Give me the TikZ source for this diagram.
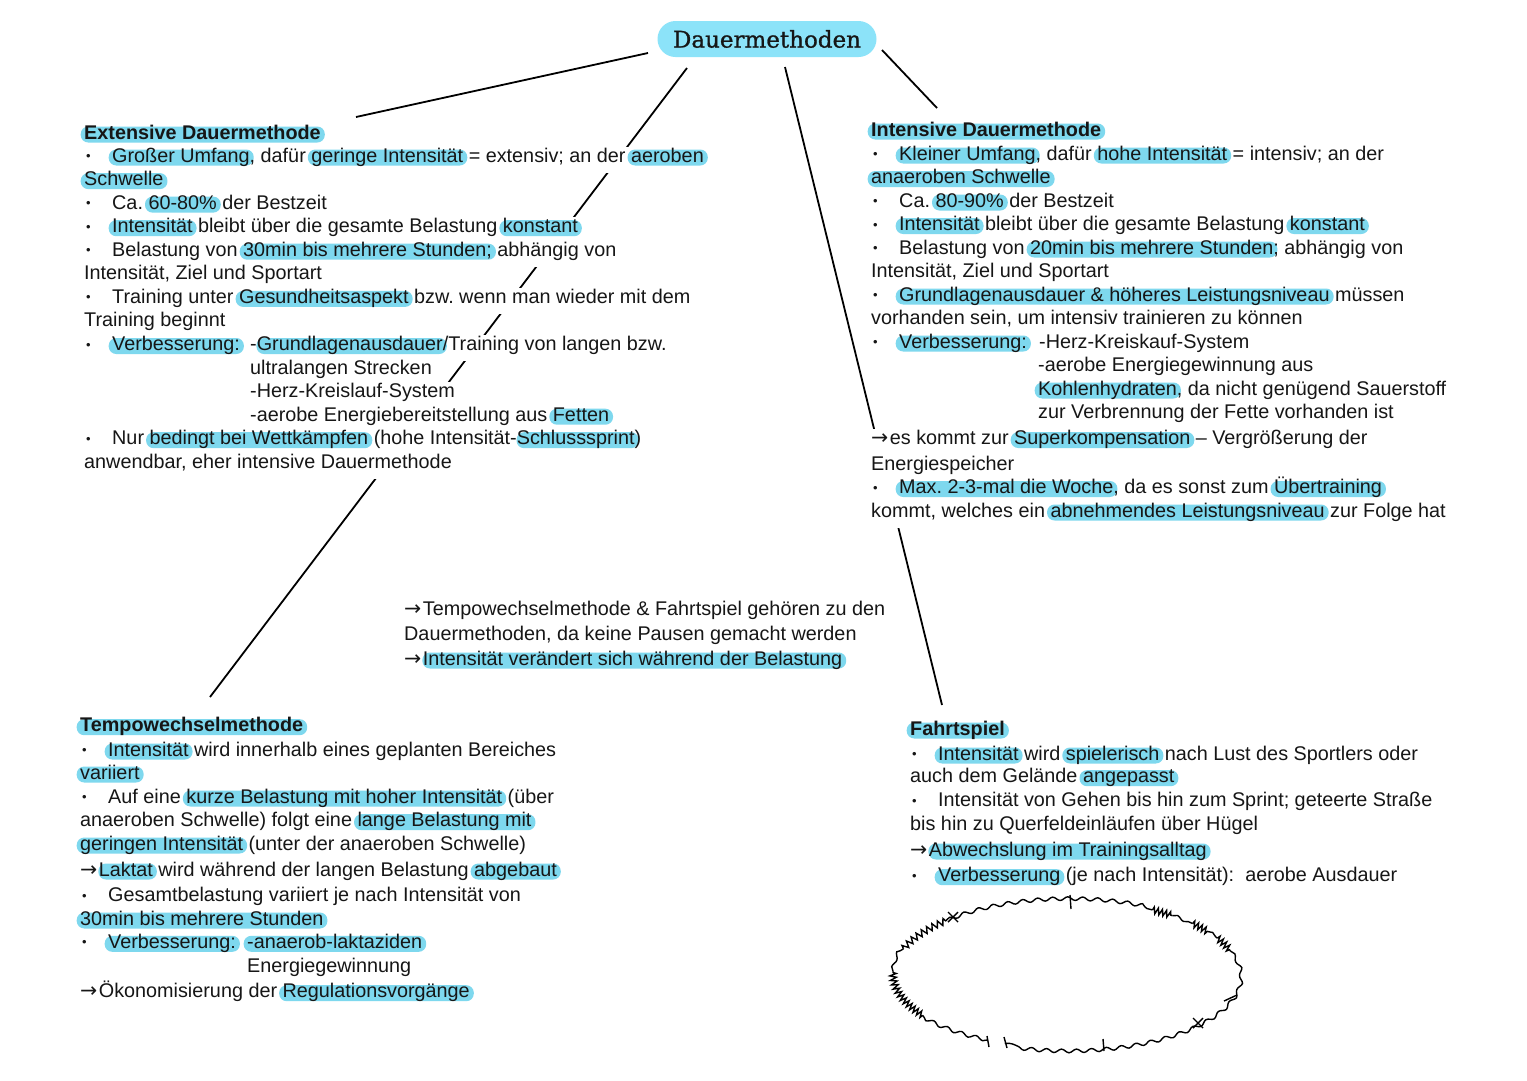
\documentclass[tikz,border=0pt]{standalone}
\usepackage{fontspec}
\setmainfont{Liberation Sans}
\newfontfamily\titlefont[FakeBold=1]{DejaVu Serif}
\newfontfamily\arrowfont{DejaVu Sans}
\usetikzlibrary{backgrounds,decorations.pathmorphing}
\definecolor{hlc}{RGB}{126,216,238}
\definecolor{titlec}{RGB}{140,227,249}
\definecolor{txtc}{RGB}{22,22,22}
\frenchspacing
\newsavebox\hlbox
\newlength\hlw
\newcommand\hl[2][3.5pt]{\sbox\hlbox{#2}\setlength\hlw{\wd\hlbox}\addtolength\hlw{4pt}\tikz[overlay,baseline=0pt]\fill[hlc,rounded corners=7.5pt](-#1,-3.5pt) rectangle (\hlw,12.5pt);\usebox\hlbox}
\newcommand\bul{\makebox[28pt][l]{\hspace{2pt}\raisebox{1.5pt}{\fontsize{13}{13}\selectfont •}}}
\newcommand\ar{{\arrowfont\fontsize{20.5}{20.5}\selectfont →}\kern1.5pt}
\newcounter{lnc}
\newcommand\Ln[3]{\stepcounter{lnc}\node[ln] (ln\arabic{lnc}) at (#1,#2) {#3};}
\newcommand\eseg[3]{\draw[elw,#3] ([shift={(1066,974)}]#1:173 and 74) arc[start angle=#1, end angle=#2, x radius=173, y radius=74];}
\begin{document}
\begin{tikzpicture}[x=1pt,y=-1pt,
  ln/.style={anchor=base west, inner sep=0pt, fill=white, text height=15.5pt, text depth=10.5pt, text=txtc, font=\fontsize{19.8}{23.5}\selectfont},
  head/.style={ln, font=\fontsize{19.8}{23.5}\selectfont\bfseries},
  titlebox/.style={fill=titlec, rounded corners=18pt, minimum width=219pt, minimum height=36pt, inner sep=0pt, text=txtc, font=\titlefont\fontsize{23}{23}\selectfont},
  conn/.style={line width=1.8pt, black},
  elw/.style={line width=1.4pt, black},
  wav/.style={decorate, decoration={snake, amplitude=1.8pt, segment length=15pt}},
  zz/.style={decorate, decoration={zigzag, amplitude=3.2pt, segment length=4.2pt}},
  zzs/.style={decorate, decoration={zigzag, amplitude=3.2pt, segment length=6pt}}]
\useasboundingbox (0,0) rectangle (1527,1080);

% title
\node[titlebox] (title) at (767,39) {Dauermethoden};

% connector end points
\coordinate (a1) at (648,53);  \coordinate (b1) at (356,117);
\coordinate (a2) at (687,68);  \coordinate (b2) at (210,697);
\coordinate (a3) at (785,67);  \coordinate (b3) at (942,705);
\coordinate (a4) at (882,50);  \coordinate (b4) at (937,108);

% Extensive Dauermethode
\node[head] (ext) at (84,139) {\hl{Extensive Dauermethode}};
\Ln{84}{162}{\bul\hl{Großer Umfang}, dafür \hl{geringe Intensität} = extensiv; an der \hl{aeroben}}
\Ln{84}{185.6}{\hl{Schwelle}}
\Ln{84}{209.1}{\bul Ca. \hl{60-80\%} der Bestzeit}
\Ln{84}{232.7}{\bul\hl{Intensität} bleibt über die gesamte Belastung \hl{konstant}}
\Ln{84}{256.2}{\bul Belastung von \hl{30min bis mehrere Stunden;} abhängig von}
\Ln{84}{279.8}{Intensität, Ziel und Sportart}
\Ln{84}{303.4}{\bul Training unter \hl{Gesundheitsaspekt} bzw. wenn man wieder mit dem}
\Ln{84}{326.9}{Training beginnt}
\Ln{84}{350.5}{\bul\makebox[138pt][l]{\hl{Verbesserung:}}-\hl[0.3pt]{Grundlagenausdauer}/Training von langen bzw.}
\Ln{250}{374.0}{ultralangen Strecken}
\Ln{250}{397.6}{-Herz-Kreislauf-System}
\Ln{250}{421.2}{-aerobe Energiebereitstellung aus \hl{Fetten}}
\Ln{84}{444.7}{\bul Nur \hl{bedingt bei Wettkämpfen} (hohe Intensität-\hl[0.3pt]{Schlusssprint})}
\Ln{84}{468.3}{anwendbar, eher intensive Dauermethode}

% Intensive Dauermethode
\node[head] (int) at (871,136) {\hl{Intensive Dauermethode}};
\Ln{871}{160}{\bul\hl{Kleiner Umfang}, dafür \hl{hohe Intensität} = intensiv; an der}
\Ln{871}{183.5}{\hl{anaeroben Schwelle}}
\Ln{871}{207}{\bul Ca. \hl{80-90\%} der Bestzeit}
\Ln{871}{230.5}{\bul\hl{Intensität} bleibt über die gesamte Belastung \hl{konstant}}
\Ln{871}{254}{\bul Belastung von \hl{20min bis mehrere Stunden}; abhängig von}
\Ln{871}{277.5}{Intensität, Ziel und Sportart}
\Ln{871}{301}{\bul\hl{Grundlagenausdauer \& höheres Leistungsniveau} müssen}
\Ln{871}{324.5}{vorhanden sein, um intensiv trainieren zu können}
\Ln{871}{348}{\bul\makebox[140pt][l]{\hl{Verbesserung:}}-Herz-Kreiskauf-System}
\Ln{1038}{371.5}{-aerobe Energiegewinnung aus}
\Ln{1038}{395}{\hl{Kohlenhydraten}, da nicht genügend Sauerstoff}
\Ln{1038}{418.5}{zur Verbrennung der Fette vorhanden ist}
\Ln{871}{444.5}{\ar es kommt zur \hl{Superkompensation} – Vergrößerung der}
\Ln{871}{470}{Energiespeicher}
\Ln{871}{493.5}{\bul\hl{Max. 2-3-mal die Woche}, da es sonst zum \hl{Übertraining}}
\Ln{871}{517}{kommt, welches ein \hl{abnehmendes Leistungsniveau} zur Folge hat}

% middle note
\Ln{404}{615}{\ar Tempowechselmethode \& Fahrtspiel gehören zu den}
\Ln{404}{640}{Dauermethoden, da keine Pausen gemacht werden}
\Ln{404}{665}{\ar\hl[0.5pt]{Intensität verändert sich während der Belastung}}

% Tempowechselmethode
\node[head] (tempo) at (80,731.7) {\hl{Tempowechselmethode}};
\Ln{80}{756}{\bul\hl{Intensität} wird innerhalb eines geplanten Bereiches}
\Ln{80}{779}{\hl{variiert}}
\Ln{80}{803}{\bul Auf eine \hl{kurze Belastung mit hoher Intensität} (über}
\Ln{80}{826.7}{anaeroben Schwelle) folgt eine \hl{lange Belastung mit}}
\Ln{80}{850}{\hl{geringen Intensität} (unter der anaeroben Schwelle)}
\Ln{80}{876}{\ar\hl[0.5pt]{Laktat} wird während der langen Belastung \hl{abgebaut}}
\Ln{80}{901.7}{\bul Gesamtbelastung variiert je nach Intensität von}
\Ln{80}{925}{\hl{30min bis mehrere Stunden}}
\Ln{80}{948.3}{\bul\makebox[139pt][l]{\hl{Verbesserung:}}\hl{-anaerob-laktaziden}}
\Ln{247}{972.7}{Energiegewinnung}
\Ln{80}{997.7}{\ar Ökonomisierung der \hl{Regulationsvorgänge}}

% Fahrtspiel
\node[head] (fahrt) at (910,735) {\hl{Fahrtspiel}};
\Ln{910}{760}{\bul\hl{Intensität} wird \hl{spielerisch} nach Lust des Sportlers oder}
\Ln{910}{782.7}{auch dem Gelände \hl{angepasst}}
\Ln{910}{806.7}{\bul Intensität von Gehen bis hin zum Sprint; geteerte Straße}
\Ln{910}{830}{bis hin zu Querfeldeinläufen über Hügel}
\Ln{910}{856}{\ar\hl[0.5pt]{Abwechslung im Trainingsalltag}}
\Ln{910}{881.7}{\bul\hl{Verbesserung} (je nach Intensität):\ \ aerobe Ausdauer}

% hand-drawn ellipse
\eseg{117}{146}{wav}
\eseg{146}{182}{zz}
\eseg{182}{200}{wav}
\eseg{200}{226}{zzs}
\eseg{226}{300}{wav}
\eseg{300}{308}{zz}
\eseg{308}{317}{wav}
\eseg{317}{325}{zz}
\eseg{325}{331}{wav}
\eseg{331}{342}{zz}
\eseg{342}{470.7}{wav}
\draw[elw] (1070,895) -- (1071,909);
\draw[elw] (948,912) -- (958,922);
\draw[elw] (948,922) -- (958,912);
\draw[elw] (1224,1001) -- (1237,995);
\draw[elw] (1193,1018) -- (1203,1028);
\draw[elw] (1193,1028) -- (1203,1018);
\draw[elw] (1103,1039) -- (1104,1051);
\draw[elw] (987,1036) -- (989,1047);
\draw[elw] (1004,1037) -- (1007,1048);

% connectors (behind the text)
\begin{pgfonlayer}{background}
\fill[white] (0,0) rectangle (1527,1080);
\draw[conn] (a1) -- (b1);
\draw[conn] (a2) -- (b2);
\draw[conn] (a3) -- (b3);
\draw[conn] (a4) -- (b4);
\end{pgfonlayer}
\end{tikzpicture}
\end{document}
